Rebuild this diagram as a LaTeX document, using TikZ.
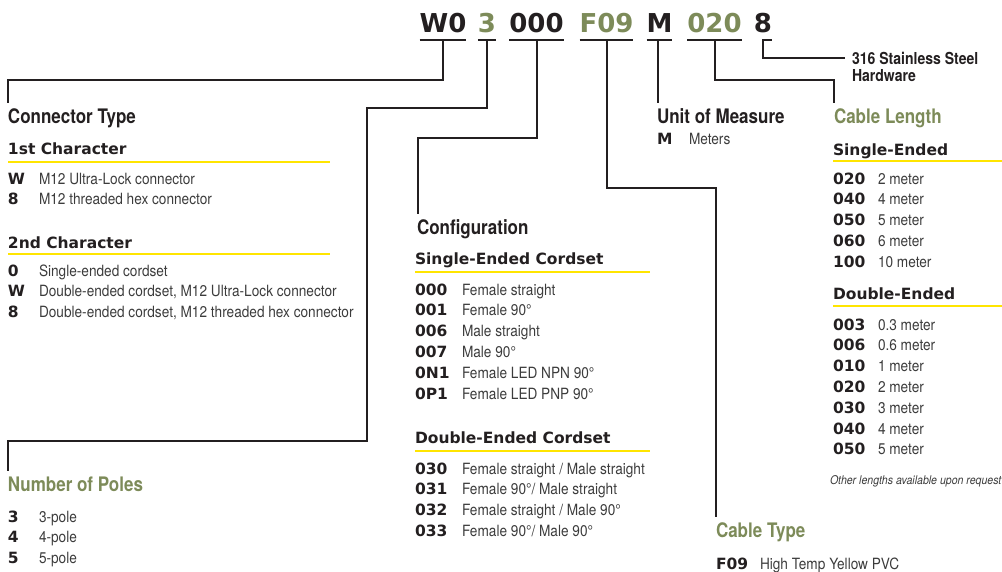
\documentclass[tikz,border=0pt]{standalone}
\usepackage{fontspec}
\setmainfont{TeX Gyre Heros}
\newfontfamily\headfont[FakeStretch=0.85]{TeX Gyre Heros}
\newfontfamily\bodyfont[FakeStretch=0.88]{TeX Gyre Heros}
\newfontfamily\blackfont{DejaVu Sans}
\usepackage{xcolor}
\usetikzlibrary{positioning}

\definecolor{inkblack}{HTML}{231F20}
\definecolor{codegreen}{HTML}{7D8B59}
\definecolor{ruleyellow}{HTML}{FFE500}
\definecolor{bodygray}{HTML}{3C3C3C}

\tikzset{
  every node/.style={inner sep=0pt,outer sep=0pt,anchor=base west},
  topcode/.style={font=\blackfont\bfseries\fontsize{26}{26}\selectfont,text=inkblack,anchor=base},
  greencode/.style={topcode,text=codegreen},
  head/.style={font=\headfont\bfseries\fontsize{20}{22}\selectfont,text=inkblack},
  greenhead/.style={head,text=codegreen},
  subhead/.style={font=\blackfont\bfseries\fontsize{15.5}{16}\selectfont,text=inkblack},
  code/.style={font=\blackfont\bfseries\fontsize{15.5}{16}\selectfont,text=inkblack},
  desc/.style={font=\bodyfont\fontsize{15.5}{16}\selectfont,text=bodygray},
  note/.style={font=\bodyfont\itshape\fontsize{12}{14}\selectfont,text=bodygray},
  hwtext/.style={font=\headfont\bfseries\fontsize{16.5}{16.5}\selectfont,text=inkblack},
  lead/.style={draw=inkblack,line width=2pt},
  yrule/.style={draw=ruleyellow,line width=2pt}
}

\begin{document}
\begin{tikzpicture}[x=1pt,y=-1pt]
  \useasboundingbox (0,0) rectangle (1002,571);
  \def \dy {20.8}

  % part number
  \node[topcode]   (cW)   at (443,32) {W0};
  \node[greencode] (c3)   at (487,32) {3};
  \node[topcode]   (c000) at (536.5,32) {000};
  \node[greencode] (cF)   at (606.5,32) {F09};
  \node[topcode]   (cM)   at (659.5,32) {M};
  \node[greencode] (c020) at (714.5,32) {020};
  \node[topcode]   (c8)   at (763,32) {8};

  % underlines
  \foreach \c in {cW,c3,c000,cF,cM,c020}
    \draw[lead] ([yshift=-8pt]\c.base west) -- ([yshift=-8pt]\c.base east);
  \draw[lead] ([yshift=-8pt,xshift=-1pt]c8.base) -- ([yshift=-8pt,xshift=9pt]c8.base);
  \coordinate (uW)   at ([yshift=-8pt]cW.base);
  \coordinate (u3)   at ([yshift=-8pt]c3.base);
  \coordinate (u000) at ([yshift=-8pt]c000.base);
  \coordinate (uF)   at ([yshift=-8pt]cF.base);
  \coordinate (uM)   at ([yshift=-8pt,xshift=-1.5pt]cM.base);
  \coordinate (u020) at ([yshift=-8pt]c020.base);
  \coordinate (u8)   at ([yshift=-8pt]c8.base);

  % connector type
  \node[head] (hConn) at (8,123) {Connector Type};
  \node[subhead] (hFirst) at (8,154) {1st Character};
  \draw[yrule] (8,162) -- (330,162);
  \foreach \cd/\tx [count=\i from 0] in {W/M12 Ultra-Lock connector,8/M12 threaded hex connector}{
    \node[code] (fc\i) at (8,{184+\dy*\i}) {\cd};
    \node[desc] (fd\i) at (39,{184+\dy*\i}) {\tx};
  }
  \node[subhead] (hSecond) at (8,248) {2nd Character};
  \draw[yrule] (8,254) -- (330,254);
  \foreach \cd/\tx [count=\i from 0] in {0/Single-ended cordset,W/{Double-ended cordset, M12 Ultra-Lock connector},8/{Double-ended cordset, M12 threaded hex connector}}{
    \node[code] (sc\i) at (8,{276+\dy*\i}) {\cd};
    \node[desc] (sd\i) at (39,{276+\dy*\i}) {\tx};
  }

  % number of poles
  \node[greenhead] (hPoles) at (8,491) {Number of Poles};
  \foreach \cd [count=\i from 0] in {3,4,5}{
    \node[code] (pc\i) at (8,{522+\dy*\i}) {\cd};
    \node[desc] (pd\i) at (39,{522+\dy*\i}) {\cd-pole};
  }

  % configuration
  \node[head] (hConf) at (417,234) {Configuration};
  \node[subhead] (hSingle) at (415,264) {Single-Ended Cordset};
  \draw[yrule] (415,272) -- (650,272);
  \foreach \cd/\tx [count=\i from 0] in {000/Female straight,001/Female 90°,006/Male straight,007/Male 90°,0N1/Female LED NPN 90°,0P1/Female LED PNP 90°}{
    \node[code] (kc\i) at (415,{295+\dy*\i}) {\cd};
    \node[desc] (kd\i) at (462,{295+\dy*\i}) {\tx};
  }
  \node[subhead] (hDouble) at (415,443) {Double-Ended Cordset};
  \draw[yrule] (415,451) -- (650,451);
  \foreach \cd/\tx [count=\i from 0] in {030/{Female straight / Male straight},031/{Female 90°/ Male straight},032/{Female straight / Male 90°},033/{Female 90°/ Male 90°}}{
    \node[code] (dc\i) at (415,{474+\dy*\i}) {\cd};
    \node[desc] (dd\i) at (462,{474+\dy*\i}) {\tx};
  }

  % unit of measure
  \node[head] (hUnit) at (657,123) {Unit of Measure};
  \node[code] (mc) at (657,144) {M};
  \node[desc] (md) at (689,144) {Meters};

  % cable length
  \node[greenhead] (hLen) at (834,123) {Cable Length};
  \node[subhead] (hLs) at (833,155) {Single-Ended};
  \draw[yrule] (833,161) -- (1002,161);
  \foreach \cd/\tx [count=\i from 0] in {020/2,040/4,050/5,060/6,100/10}{
    \node[code] (lc\i) at (833,{184+\dy*\i}) {\cd};
    \node[desc] (ld\i) at (878,{184+\dy*\i}) {\tx\ meter};
  }
  \node[subhead] (hLd) at (833,299) {Double-Ended};
  \draw[yrule] (833,306) -- (1002,306);
  \foreach \cd/\tx [count=\i from 0] in {003/0.3,006/0.6,010/1,020/2,030/3,040/4,050/5}{
    \node[code] (mc\i) at (833,{330+\dy*\i}) {\cd};
    \node[desc] (md\i) at (878,{330+\dy*\i}) {\tx\ meter};
  }
  \node[note] (nOther) at (830,484) {Other lengths available upon request};

  % cable type
  \node[greenhead] (hCable) at (716,537) {Cable Type};
  \node[code] (tc) at (716,569) {F09};
  \node[desc] (td) at (760,569) {High Temp Yellow PVC};

  % hardware
  \node[hwtext] (hw1) at (852,64.5) {316 Stainless Steel};
  \node[hwtext] (hw2) at (852,81) {Hardware};

  % leads
  \draw[lead] (uW) -- ++(0,40) -| ([yshift=5pt]hConn.north west);
  \draw[lead] (u3) -- ++(0,68) -| ++(-120,333) -| ([yshift=5pt]hPoles.north west);
  \draw[lead] (u000) -- ++(0,98) -| ([yshift=5pt,xshift=1pt]hConf.north west);
  \draw[lead] (uF) -- ++(0,148) -| ([yshift=5pt]hCable.north west);
  \draw[lead] (uM) -- ([yshift=5pt,xshift=1pt]hUnit.north west);
  \draw[lead] (u020) -- ++(0,40) -| ([yshift=5pt]hLen.north west);
  \draw[lead] (u8) |- ([xshift=-7pt]hw1.west);
\end{tikzpicture}
\end{document}
